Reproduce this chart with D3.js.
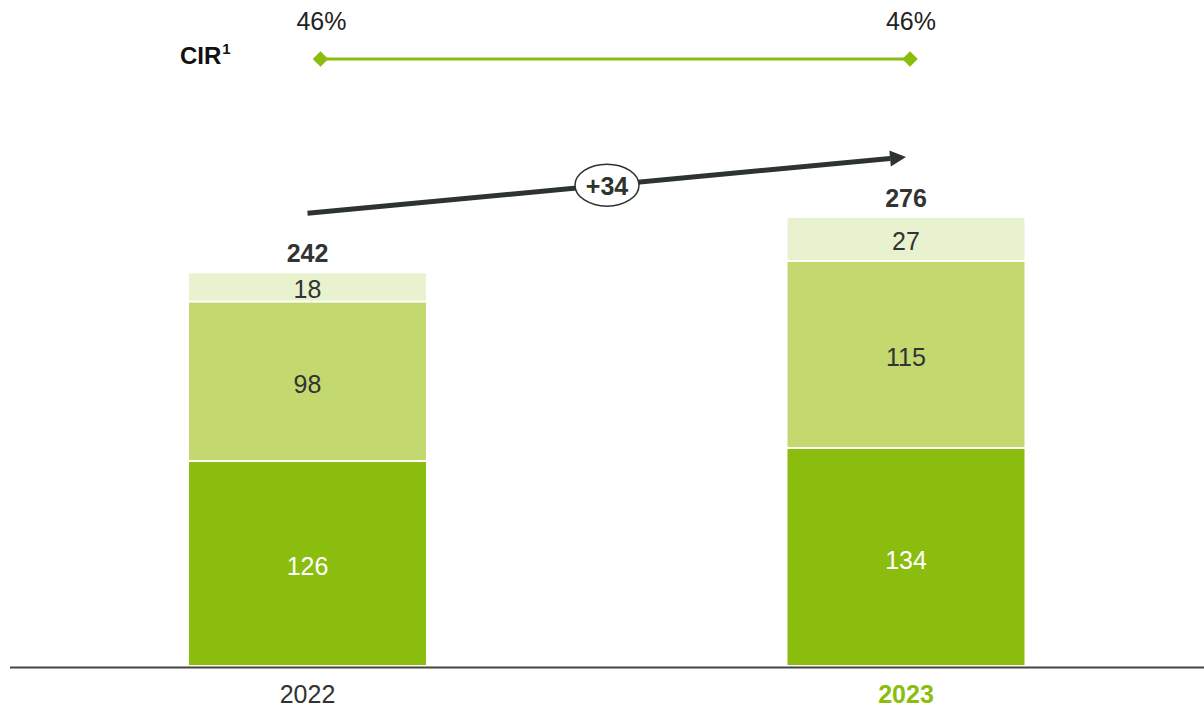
<!DOCTYPE html>
<html><head><meta charset="utf-8">
<script src="https://cdn.jsdelivr.net/npm/d3@7"></script>
<style>body{margin:0;background:#fff;}svg{display:block;font-family:"Liberation Sans",Arial,sans-serif;}</style>
</head><body><div id="chart"></div>
<script>
const categories = ["2022", "2023"];
const seriesBottom = [126, 134];
const seriesMiddle = [98, 115];
const seriesTop = [18, 27];
const totals = [242, 276];
const cirValues = ["46%", "46%"];
const deltaLabel = "+34";

const W = 1204, H = 708;
const FS = 25;
const svg = d3.select("#chart").append("svg").attr("width", W).attr("height", H);

const x = d3.scalePoint().domain(categories).range([307.5, 906]);
const y = d3.scaleLinear().domain([0, 276]).range([667, 218]);
const barW = 237;
const colors = ["#8BBD0E", "#C3D96F", "#E9F2CF"];
const textColors = ["#ffffff", "#333333", "#333333"];
const series = [seriesBottom, seriesMiddle, seriesTop];

categories.forEach((c, i) => {
  let base = 0;
  series.forEach((s, k) => {
    const v = s[i];
    const y0 = y(base), y1 = y(base + v);
    svg.append("rect").attr("x", x(c) - barW / 2).attr("y", y1)
      .attr("width", barW).attr("height", y0 - y1 - 2)
      .attr("fill", colors[k]);
    svg.append("text").attr("x", x(c)).attr("y", (y0 + y1) / 2 + 1.5)
      .attr("text-anchor", "middle").attr("dominant-baseline", "central")
      .attr("font-size", FS).attr("fill", textColors[k]).text(v);
    base += v;
  });
  svg.append("text").attr("x", x(c)).attr("y", y(totals[i]) - 20)
    .attr("text-anchor", "middle").attr("dominant-baseline", "central")
    .attr("font-size", FS).attr("font-weight", "bold").attr("fill", "#333").text(totals[i]);
  svg.append("text").attr("x", x(c)).attr("y", 694)
    .attr("text-anchor", "middle").attr("dominant-baseline", "central")
    .attr("font-size", FS).attr("font-weight", i === 1 ? "bold" : "normal")
    .attr("fill", i === 1 ? "#8BBD0E" : "#333").text(c);
});

// axis line
svg.append("line").attr("x1", 10).attr("x2", W).attr("y1", 667.5).attr("y2", 667.5)
  .attr("stroke", "#444").attr("stroke-width", 2);

// CIR line
const cirX = [x(categories[0]) + 13, x(categories[1]) + 4];
svg.append("line").attr("x1", cirX[0]).attr("x2", cirX[1]).attr("y1", 59).attr("y2", 59)
  .attr("stroke", "#8BBD0E").attr("stroke-width", 3);
cirX.forEach((cx, i) => {
  svg.append("rect").attr("x", cx - 5.5).attr("y", 53.5).attr("width", 11).attr("height", 11)
    .attr("fill", "#8BBD0E").attr("transform", `rotate(45 ${cx} 59)`);
  svg.append("text").attr("x", cx + 1).attr("y", 21).attr("text-anchor", "middle")
    .attr("dominant-baseline", "central").attr("font-size", FS).attr("fill", "#222").text(cirValues[i]);
});
const cir = svg.append("text").attr("x", 180).attr("y", 64).attr("font-size", 24)
  .attr("font-weight", "bold").attr("fill", "#111");
cir.append("tspan").text("CIR");
cir.append("tspan").attr("font-size", 15).attr("dy", -10).attr("dx", 1).text("1");

// growth arrow
const ax0 = x(categories[0]), ay0 = y(totals[0]) - 60;
const ax1 = x(categories[1]), ay1 = y(totals[1]) - 61;
const ang = Math.atan2(ay1 - ay0, ax1 - ax0);
const headL = 16, headW = 8;
const bx = ax1 - headL * Math.cos(ang), by = ay1 - headL * Math.sin(ang);
svg.append("line").attr("x1", ax0).attr("y1", ay0).attr("x2", bx).attr("y2", by)
  .attr("stroke", "#2d332d").attr("stroke-width", 5);
const nx = -Math.sin(ang), ny = Math.cos(ang);
svg.append("path").attr("d", `M${ax1},${ay1}L${bx + nx * headW},${by + ny * headW}L${bx - nx * headW},${by - ny * headW}Z`)
  .attr("fill", "#2d332d");
const mx = 607, my = ay0 + (ay1 - ay0) * (mx - ax0) / (ax1 - ax0);
svg.append("ellipse").attr("cx", mx).attr("cy", my).attr("rx", 32).attr("ry", 21)
  .attr("fill", "#fff").attr("stroke", "#2d332d").attr("stroke-width", 1.5);
svg.append("text").attr("x", mx).attr("y", my + 1).attr("text-anchor", "middle")
  .attr("dominant-baseline", "central").attr("font-size", FS).attr("font-weight", "bold")
  .attr("fill", "#2d332d").text(deltaLabel);
</script></body></html>
